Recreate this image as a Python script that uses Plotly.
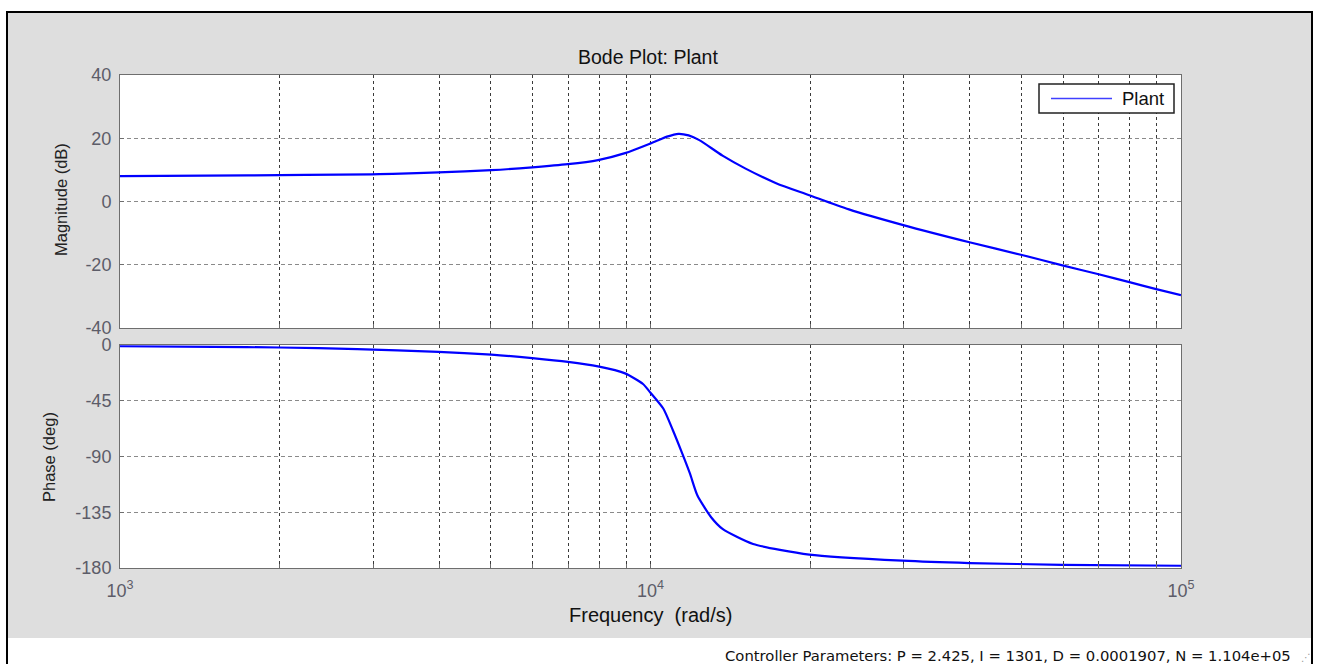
import plotly.graph_objects as go

W, H = 1317, 664

# ---- data ----
freq_mag = [1000, 1744, 2978, 3266, 3985, 5013, 5985, 6988, 7963, 8955, 9980,
            10420, 10740, 11290, 11800, 12360, 13670, 15110, 17250, 19920, 23660,
            29840, 39920, 50120, 59760, 69960, 79940, 89800, 100000]
mag_db = [8.05, 8.25, 8.6, 8.75, 9.2, 9.9, 10.8, 11.8, 13.1, 15.3, 18.3,
          19.6, 20.5, 21.4, 20.9, 19.4, 14.5, 10.4, 5.8, 2.0, -2.5,
          -7.4, -12.9, -16.9, -20.2, -23.0, -25.5, -27.7, -29.6]

freq_phase = [1000, 1500, 2000, 2800, 3985, 5013, 5985, 6988, 7963, 8955, 9680,
              10000, 10570, 11020, 11480, 11870, 12260, 13010, 13670, 15610,
              19920, 29840, 39920, 59760, 100000]
phase_deg = [-1.0, -1.5, -2.0, -3.3, -5.5, -7.8, -10.6, -13.6, -17.3, -22.9, -31.5,
             -38.5, -51.3, -68.8, -87.7, -103.9, -121.5, -139.0, -148.4, -160.6,
             -169.2, -174.1, -176.0, -177.4, -178.2]

decades = [1000, 10000, 100000]
x_tickvals = [m * d for d in [1000, 10000] for m in range(1, 10)] + [100000]
x_ticktext = [("10<sup>%d</sup>" % (len(str(v)) - 1)) if v in decades else "" for v in x_tickvals]
mag_ticks = [40, 20, 0, -20, -40]
phase_ticks = [0, -45, -90, -135, -180]

title_text = "Bode Plot: Plant"
mag_label = "Magnitude (dB)"
phase_label = "Phase (deg)"
freq_label = "Frequency\u00a0 (rad/s)"
legend_label = "Plant"
footer_text = "Controller Parameters: P = 2.425, I = 1301, D = 0.0001907, N = 1.104e+05"


def px(x):
    return x / W


def py(y):
    return 1 - y / H


FONT = "Liberation Sans, Arial, sans-serif"
BLUE = "#0000ff"
TICKCOL = "#5c5c68"

fig = go.Figure()
fig.add_trace(go.Scatter(x=freq_mag, y=mag_db, mode="lines", name=legend_label,
                         line=dict(color=BLUE, width=2.2, shape="spline", smoothing=0.7),
                         xaxis="x", yaxis="y", showlegend=False, hoverinfo="skip"))
fig.add_trace(go.Scatter(x=freq_phase, y=phase_deg, mode="lines", name=legend_label,
                         line=dict(color=BLUE, width=2.2, shape="spline", smoothing=0.6),
                         xaxis="x2", yaxis="y2", showlegend=False, hoverinfo="skip"))

x_dom = [px(120), px(1181)]
common_x = dict(type="log", range=[3, 5], domain=x_dom, tickmode="array",
                tickvals=x_tickvals, showgrid=True, gridcolor="#3a3a3a",
                griddash="3px,3px", gridwidth=1, showline=True, mirror=True,
                linecolor="#6e6e6e", linewidth=1, ticks="inside", ticklen=4,
                tickcolor="#6e6e6e", zeroline=False, automargin=False)
common_y = dict(showgrid=True, gridcolor="#8a8a8a", griddash="4px,3px", gridwidth=1,
                showline=True, mirror=True, linecolor="#6e6e6e", linewidth=1,
                ticks="inside", ticklen=4, tickcolor="#6e6e6e", zeroline=False,
                tickfont=dict(family=FONT, size=18, color=TICKCOL),
                ticklabelstandoff=4, tickmode="array", automargin=False)

fig.update_layout(
    width=W, height=H, margin=dict(l=0, r=0, t=0, b=0, pad=0, autoexpand=False),
    paper_bgcolor="#dedede", plot_bgcolor="#ffffff",
    xaxis=dict(common_x, anchor="y", showticklabels=False),
    yaxis=dict(common_y, domain=[py(328), py(75)], range=[-40, 40], tickvals=mag_ticks,
               ticktext=[str(v) for v in mag_ticks], anchor="x"),
    xaxis2=dict(common_x, anchor="y2", ticktext=x_ticktext, showticklabels=True,
                tickfont=dict(family=FONT, size=18, color=TICKCOL), ticklabelstandoff=6),
    yaxis2=dict(common_y, domain=[py(568), py(345)], range=[-180, 0], tickvals=phase_ticks,
                ticktext=[str(v) for v in phase_ticks], anchor="x2"),
    showlegend=False,
)

shapes = []
shapes.append(dict(type="rect", xref="paper", yref="paper", x0=0, x1=1, y0=py(12), y1=1,
                   fillcolor="white", line=dict(width=0), layer="below"))
shapes.append(dict(type="rect", xref="paper", yref="paper", x0=0, x1=px(7), y0=0, y1=1,
                   fillcolor="white", line=dict(width=0), layer="below"))
shapes.append(dict(type="rect", xref="paper", yref="paper", x0=px(1312), x1=1, y0=0, y1=1,
                   fillcolor="white", line=dict(width=0), layer="below"))
shapes.append(dict(type="rect", xref="paper", yref="paper", x0=0, x1=1, y0=0, y1=py(638),
                   fillcolor="white", line=dict(width=0), layer="below"))
shapes.append(dict(type="path", xref="paper", yref="paper",
                   path="M %f,%f L %f,%f L %f,%f L %f,%f" % (px(7), py(664), px(7), py(12),
                                                             px(1312), py(12), px(1312), py(664)),
                   line=dict(color="black", width=2)))
shapes.append(dict(type="rect", xref="paper", yref="paper", x0=px(1039), x1=px(1174),
                   y0=py(113), y1=py(84), fillcolor="white", line=dict(color="#222222", width=1.5)))
shapes.append(dict(type="line", xref="paper", yref="paper", x0=px(1051), x1=px(1112),
                   y0=py(98.5), y1=py(98.5), line=dict(color="#4040ff", width=1.6)))
fig.update_layout(shapes=shapes)

ann = []
ann.append(dict(text=title_text, xref="paper", yref="paper", x=px(648), y=py(57),
                showarrow=False, xanchor="center", yanchor="middle",
                font=dict(family=FONT, size=19.5, color="#111111")))
ann.append(dict(text=mag_label, xref="paper", yref="paper", x=px(61), y=py(200),
                showarrow=False, textangle=-90, xanchor="center", yanchor="middle",
                font=dict(family=FONT, size=16.5, color="#222222")))
ann.append(dict(text=phase_label, xref="paper", yref="paper", x=px(49), y=py(457),
                showarrow=False, textangle=-90, xanchor="center", yanchor="middle",
                font=dict(family=FONT, size=16.5, color="#222222")))
ann.append(dict(text=freq_label, xref="paper", yref="paper", x=px(650), y=py(615),
                showarrow=False, xanchor="center", yanchor="middle",
                font=dict(family=FONT, size=20, color="#111111")))
ann.append(dict(text=legend_label, xref="paper", yref="paper", x=px(1120), y=py(98.5),
                showarrow=False, xanchor="left", yanchor="middle",
                font=dict(family=FONT, size=18.5, color="#111111")))
ann.append(dict(text=footer_text, xref="paper", yref="paper", x=px(1293), y=py(655),
                showarrow=False, xanchor="right", yanchor="middle",
                font=dict(family="DejaVu Sans, Verdana, sans-serif", size=14.8, color="#111111")))
ann.append(dict(text="\u22f0", xref="paper", yref="paper", x=px(1306), y=py(657),
                showarrow=False, xanchor="center", yanchor="middle",
                font=dict(family="DejaVu Sans, sans-serif", size=10, color="#999999")))
fig.update_layout(annotations=ann)

fig.write_html("out.html", config={"displayModeBar": False},
               post_script="document.body.style.margin='0';document.body.style.overflow='hidden';")
